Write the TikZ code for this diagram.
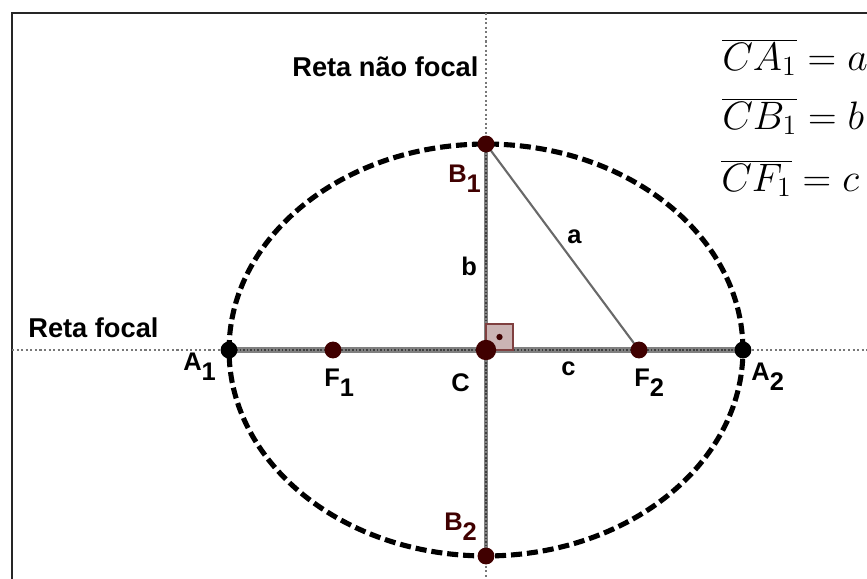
\RequirePackage{fix-cm}
\documentclass[tikz,border=0pt]{standalone}
\usepackage{fontspec}
\newfontfamily\rotulofonte{Liberation Sans}
\usetikzlibrary{calc}
\definecolor{elmarrom}{RGB}{64, 0, 0}
\definecolor{elcinza}{RGB}{105, 105, 105}
\definecolor{eleixo}{RGB}{120, 120, 120}
\definecolor{elrosa}{RGB}{203, 180, 180}
\definecolor{elborda}{RGB}{128, 64, 64}

\tikzset{
    rotulo/.style={font=\rotulofonte\bfseries\fontsize{14.5}{17}\selectfont, inner sep=0pt},
    titulo/.style={font=\rotulofonte\bfseries\fontsize{15.5}{18}\selectfont, inner sep=0pt},
    formula/.style={font=\fontsize{22.6}{27}\selectfont, inner sep=0pt, anchor=base west},
    eixo/.style={eleixo, line width=1.1pt, dash pattern=on 1.2pt off 1.4pt},
    pontilhado/.style={black!75, line width=1pt, dash pattern=on 1pt off 1pt}
}
\newcommand{\comsub}[2]{#1\raisebox{-0.42em}{#2}}

\begin{document}
\begin{tikzpicture}[x=0.02cm, y=-0.02cm]
\useasboundingbox (0,0) rectangle (867,579);

% === Moldura ===
\draw[line width=1.2pt, black!85] (12,579) -- (12,13) -- (867,13);

% === Pontos ===
\coordinate (C) at (486,350);
\coordinate (A1) at (229,350);
\coordinate (A2) at (743,350);
\coordinate (F1) at (333,350);
\coordinate (F2) at (639,350);
\coordinate (B1) at (486,144);
\coordinate (B2) at (486,556);

% Retas focal e nao focal
\coordinate (esq) at (12,350);
\coordinate (dir) at (867,350);
\coordinate (topo) at (486,13);
\coordinate (base) at (486,579);
\draw[eixo] (esq) -- (dir);
\draw[eixo] (topo) -- (base);

% Eixos maior e menor
\draw[line width=3pt, black!50] (A1) -- (A2);
\draw[pontilhado] (A1) -- (A2);
\draw[line width=1.8pt, black!50] (B1) -- (B2);
\draw[pontilhado] (B1) -- (B2);

% Elipse
\draw[line width=2.9pt, dash pattern=on 6.3pt off 2.8pt] (C) ellipse [x radius=5.14cm, y radius=4.12cm];

% Segmento a
\draw[elcinza, line width=1.2pt] (B1) -- (F2);

% Angulo reto
\draw[elborda, fill=elrosa, line width=0.9pt] (C) rectangle ($(C)+(27,-26)$);
\fill[elmarrom] ($(C)+(13.5,-13)$) circle (1.8pt);

% Pontos
\foreach \p in {F1,F2,B1,B2} {
    \fill[elmarrom] (\p) circle (4.8pt);
}
\foreach \p in {A1,A2} {
    \fill[black] (\p) circle (4.8pt);
}
\fill[elmarrom] (C) circle (5.8pt);

% === Rotulos ===
\node[titulo, anchor=base west] (retanf) at (292,76) {Reta não focal};
\node[titulo, anchor=base west] (retaf) at (28,337) {Reta focal};

\node[rotulo, anchor=base west] (lA1) at (183,370) {\comsub{A}{1}};
\node[rotulo, anchor=base west] (lF1) at (324,386) {\comsub{F}{1}};
\node[rotulo, anchor=base west] (lC) at (451,391) {C};
\node[rotulo, anchor=base west] (lc) at (561,375) {c};
\node[rotulo, anchor=base west] (lF2) at (634,386) {\comsub{F}{2}};
\node[rotulo, anchor=base west] (lA2) at (751,380) {\comsub{A}{2}};
\node[rotulo, anchor=base west, elmarrom] (lB1) at (448,182) {\comsub{B}{1}};
\node[rotulo, anchor=base west, elmarrom] (lB2) at (444,530) {\comsub{B}{2}};
\node[rotulo, anchor=base west] (lb) at (461,275) {b};
\node[rotulo, anchor=base west] (la) at (567,243) {a};

% Medidas
\node[formula] (fa) at (722,70) {$\overline{CA_1}=a$};
\node[formula] (fb) at (722,129) {$\overline{CB_1}=b$};
\node[formula] (fc) at (721,191) {$\overline{CF_1}=c$};

\end{tikzpicture}
\end{document}
